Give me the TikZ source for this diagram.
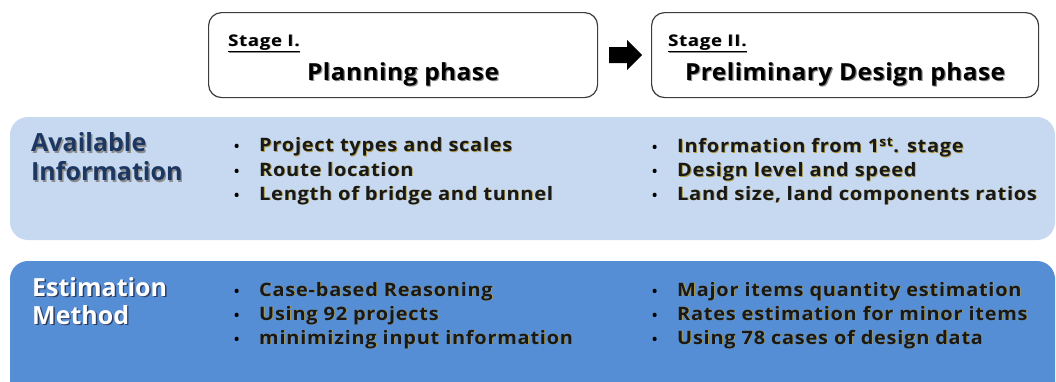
\documentclass[tikz,border=0pt]{standalone}
\usepackage{fontspec}
\setmainfont{Open Sans}
\usetikzlibrary{positioning}

\definecolor{bandlight}{RGB}{198,217,240}
\definecolor{banddark}{RGB}{85,142,213}
\definecolor{framegray}{RGB}{60,60,60}
\definecolor{titlenavy}{RGB}{28,56,98}
\definecolor{goldshade}{RGB}{175,155,70}
\definecolor{grayshade}{RGB}{140,140,140}
\definecolor{darkshade}{RGB}{45,60,95}

% text with a soft drop shadow: #1 offset, #2 shadow colour, #3 text
\newcommand\shtxt[3][0.8pt]{\leavevmode\rlap{\hspace{#1}\raisebox{-#1}{\color{#2}#3}}#3}

\tikzset{
  stagebox/.style={draw=framegray, line width=1.2pt, rounded corners=13pt, fill=white},
  band/.style={rounded corners=18pt},
  txt/.style={inner sep=0pt, anchor=base west, font=\bfseries},
  bullettxt/.style={txt, font=\fontsize{18.5}{22}\bfseries\addfontfeatures{FakeStretch=1.08,LetterSpace=4}, text=black!90},
  bulletdot/.style={txt, font=\fontsize{14}{16}\bfseries},
  headtxt/.style={txt, font=\fontsize{25}{29}\bfseries},
  stagetag/.style={txt, font=\fontsize{16}{18}\bfseries\addfontfeatures{FakeStretch=1.15,LetterSpace=5}},
  phasetxt/.style={inner sep=0pt, anchor=base, font=\fontsize{23.5}{28}\bfseries\addfontfeatures{FakeStretch=1.04,LetterSpace=2}},
}

\begin{document}
\begin{tikzpicture}[x=1pt, y=-1pt]
\useasboundingbox (0,0) rectangle (1056,381);

% information bands
\begin{scope}
  \clip (0,0) rectangle (1056,381);
  \fill[bandlight, band] (10,117) rectangle (1055,240);
  \fill[banddark, band] (10,261) rectangle (1055,400);
\end{scope}

% stage boxes and the arrow between them
\node[stagebox, minimum width=389pt, minimum height=85pt, anchor=north west] (s1) at (208,12) {};
\node[stagebox, minimum width=387pt, minimum height=85pt, anchor=north west] (s2) at (651,12) {};
\fill[black] (609,47) -- (627,47) -- (627,40) -- (642,55) -- (627,70) -- (627,63) -- (609,63) -- cycle;

\node[stagetag] (t1) at (228,46) {\shtxt[0.7pt]{grayshade}{\underline{Stage I.}}};
\node[stagetag] (t2) at (668,46) {\shtxt[0.7pt]{grayshade}{\underline{Stage II.}}};
\node[phasetxt] (p1) at (s1.center |- 0,80) {\shtxt[1.2pt]{grayshade}{Planning phase}};
\node[phasetxt] (p2) at (s2.center |- 0,80) {\shtxt[1.2pt]{grayshade}{Preliminary Design phase}};

% row headings
\node[headtxt, text=titlenavy] (h1a) at (31,151.7) {\shtxt[1.4pt]{grayshade}{Available}};
\node[headtxt, text=titlenavy] (h1b) at (31,180.7) {\shtxt[1.4pt]{grayshade}{Information}};
\node[headtxt, text=white] (h2a) at (32,296) {\shtxt[1.4pt]{darkshade}{Estimation}};
\node[headtxt, text=white] (h2b) at (32,324.5) {\shtxt[1.4pt]{darkshade}{Method}};

% bullet lists
\foreach \y/\t [count=\i] in {151.7/Project types and scales, 176/Route location, 200/Length of bridge and tunnel}{
  \node[bulletdot] (a\i d) at (234,\y) {•};
  \node[bullettxt] (a\i) at (259,\y) {\shtxt{goldshade}{\t}};
}
\foreach \y/\t [count=\i] in {152.7/Information from 1\textsuperscript{st}. stage, 176.7/Design level and speed, 200/{Land size, land components ratios}}{
  \node[bulletdot] (b\i d) at (652,\y) {•};
  \node[bullettxt] (b\i) at (677,\y) {\shtxt{goldshade}{\t}};
}
\foreach \y/\t [count=\i] in {296/Case-based Reasoning, 320/Using 92 projects, 344/minimizing input information}{
  \node[bulletdot] (c\i d) at (234,\y) {•};
  \node[bullettxt] (c\i) at (259,\y) {\shtxt{goldshade}{\t}};
}
\foreach \y/\t [count=\i] in {296/Major items quantity estimation, 320/Rates estimation for minor items, 344/Using 78 cases of design data}{
  \node[bulletdot] (e\i d) at (652,\y) {•};
  \node[bullettxt] (e\i) at (677,\y) {\shtxt{goldshade}{\t}};
}
\end{tikzpicture}
\end{document}
